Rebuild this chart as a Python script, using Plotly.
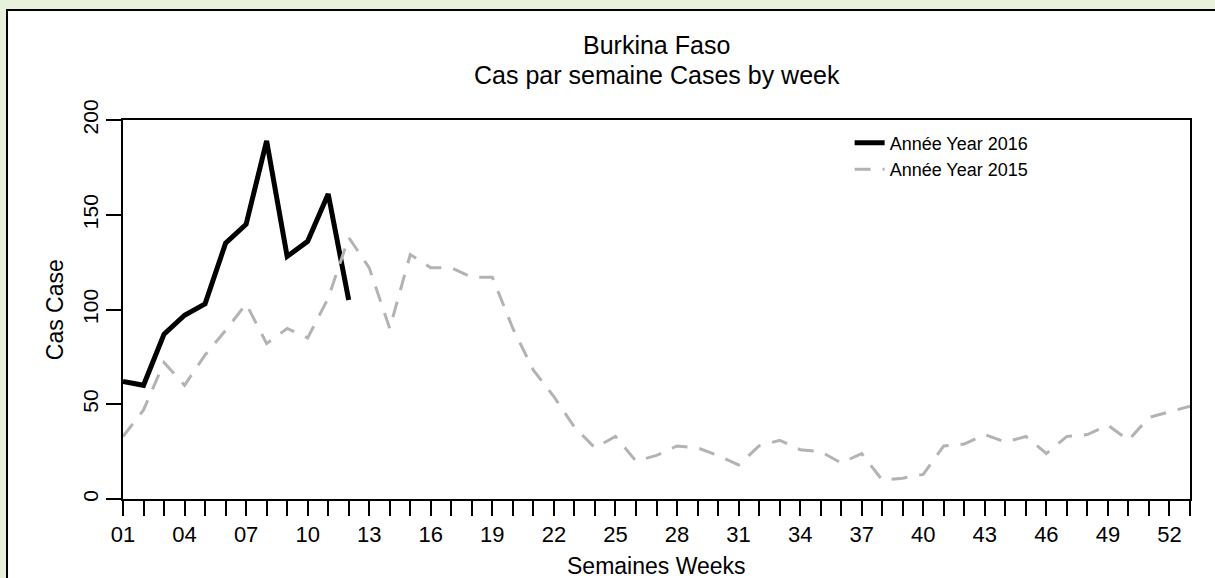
import plotly.graph_objects as go

# weekly case counts
weeks_2016 = list(range(1, 13))
cases_2016 = [62, 60, 87, 97, 103, 135, 145, 189, 128, 136, 161, 105]

weeks_2015 = list(range(1, 54))
cases_2015 = [33, 47, 72, 60, 76, 89, 103, 82, 90, 85, 106, 138, 122, 90, 129,
              122, 122, 117, 117, 90, 68, 54, 38, 27, 33, 20, 23, 28, 27, 23,
              18, 28, 31, 26, 25, 19, 24, 10, 11, 13, 28, 29, 34, 30, 33, 24,
              33, 34, 39, 31, 43, 46, 49]

tick_weeks = list(range(1, 54))
tick_text = [f"{w:02d}" if (w - 1) % 3 == 0 else "" for w in tick_weeks]
y_ticks = [0, 50, 100, 150, 200]

font = "Liberation Sans, Arial, sans-serif"

fig = go.Figure()
fig.add_trace(go.Scatter(x=weeks_2016, y=cases_2016, mode="lines",
                         name="Année Year 2016",
                         line=dict(color="black", width=5)))
fig.add_trace(go.Scatter(x=weeks_2015, y=cases_2015, mode="lines",
                         name="Année Year 2015",
                         line=dict(color="#b3b3b3", width=3, dash="16px,12px")))

fig.update_xaxes(range=[1, 53], tickvals=tick_weeks, ticktext=tick_text,
                 ticks="outside", ticklen=15, tickwidth=2, tickcolor="black",
                 showline=True, linecolor="black", linewidth=2, mirror=True,
                 showgrid=False, zeroline=False,
                 tickfont=dict(size=22, color="black", family=font))
fig.update_yaxes(range=[0, 200], tickvals=y_ticks, tickangle=-90,
                 ticks="outside", ticklen=15, tickwidth=2, tickcolor="black",
                 showline=True, linecolor="black", linewidth=2, mirror=True,
                 showgrid=False, zeroline=False,
                 tickfont=dict(size=21, color="black", family=font))

# titles
fig.add_annotation(text="Burkina Faso", x=0.5, y=1.198, xref="paper", yref="paper",
                   showarrow=False, yanchor="middle",
                   font=dict(size=25, color="black", family=font))
fig.add_annotation(text="Cas par semaine Cases by week", x=0.5, y=1.119,
                   xref="paper", yref="paper", showarrow=False, yanchor="middle",
                   font=dict(size=25, color="black", family=font))
fig.add_annotation(text="Semaines Weeks", x=0.5, y=-0.177, xref="paper", yref="paper",
                   showarrow=False, yanchor="middle",
                   font=dict(size=23, color="black", family=font))
fig.add_annotation(text="Cas Case", x=-0.064, y=0.5, xref="paper", yref="paper",
                   showarrow=False, textangle=-90, xanchor="center",
                   font=dict(size=23, color="black", family=font))

# white panel with border
fig.add_shape(type="rect", xref="paper", yref="paper",
              x0=-0.1087, x1=1.2, y0=-0.4, y1=1.29,
              fillcolor="white", line=dict(color="black", width=2), layer="below")

fig.update_layout(
    width=1215, height=578,
    margin=dict(l=123, r=25, t=120, b=79),
    paper_bgcolor="#e8f1dc", plot_bgcolor="white",
    showlegend=True,
    legend=dict(x=0.681, y=0.988, xanchor="left", yanchor="top",
                bgcolor="rgba(0,0,0,0)", tracegroupgap=0,
                font=dict(size=18, color="black", family=font)),
)

fig.write_html("out.html", config={"displayModeBar": False},
               post_script="document.body.style.margin='0';")
